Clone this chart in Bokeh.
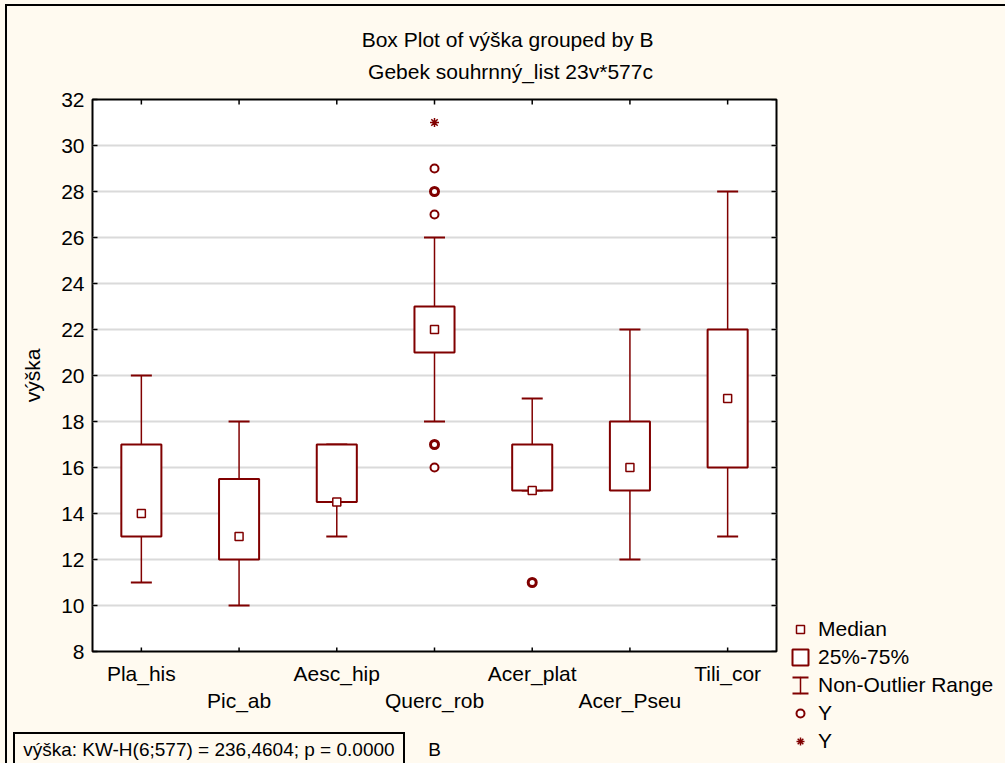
import math
from bokeh.plotting import figure
from bokeh.models import (Range1d, FixedTicker, LinearAxis, Legend, LegendItem, ColumnDataSource)
from bokeh.embed import file_html
from bokeh.resources import INLINE

# ---------------- data ----------------
categories = ["Pla_his", "Pic_ab", "Aesc_hip", "Querc_rob", "Acer_plat", "Acer_Pseu", "Tili_cor"]
medians = [14, 13, 14.5, 22, 15, 16, 19]
q1 = [13, 12, 14.5, 21, 15, 15, 16]
q3 = [17, 15.5, 17, 23, 17, 18, 22]
whisker_low = [11, 10, 13, 18, 15, 12, 13]
whisker_high = [20, 18, 17, 26, 19, 22, 28]

outlier_cat = ["Querc_rob", "Querc_rob", "Querc_rob", "Querc_rob", "Querc_rob",
               "Querc_rob", "Querc_rob", "Acer_plat", "Acer_plat"]
outlier_val = [29, 28, 28, 27, 17, 17, 16, 11, 11]
extreme_cat = ["Querc_rob"]
extreme_val = [31]

y_ticks = [8, 10, 12, 14, 16, 18, 20, 22, 24, 26, 28, 30, 32]

title_line1 = "Box Plot of výška grouped by  B"
title_line2 = "Gebek souhrnný_list 23v*577c"
y_label = "výška"
x_label = "B"
stat_text = "výška:  KW-H(6;577) = 236,4604; p = 0.0000"
legend_labels = ["Median", "25%-75%", "Non-Outlier Range", "Y", "Y"]

# ---------------- style / layout constants ----------------
DARK = "#800000"
BG = "#FFFAF0"
FONT = "Liberation Sans"
FS = "21px"
W, H = 1005, 763
FL, FR, FT, FB = 92, 776, 99, 651          # frame edges in pixels
TITLE_CX, STAT_CX = 510, 211               # text centres in pixels

n = len(categories)
x_lo, x_hi = -0.5, n - 0.5
px_per_x = (FR - FL) / (x_hi - x_lo)
def px_to_x(px):
    return x_lo + (px - FL) / px_per_x

idx = {c: i for i, c in enumerate(categories)}
xs = [idx[c] for c in categories]

css_bg = ", ".join([
    "linear-gradient(#000,#000) 5px 4px / 2px 2000px no-repeat",     # outer border (left)
    "linear-gradient(#000,#000) 5px 4px / 2000px 2px no-repeat",     # outer border (top)
    "linear-gradient(#000,#000) 13px 732px / 2px 100px no-repeat",   # stat box left
    "linear-gradient(#000,#000) 403px 732px / 2px 100px no-repeat",  # stat box right
    "linear-gradient(#000,#000) 13px 732px / 392px 2px no-repeat",   # stat box top
    BG,
])

p = figure(frame_width=FR - FL, frame_height=FB - FT,
           x_range=Range1d(x_lo, x_hi), y_range=Range1d(y_ticks[0], y_ticks[-1]),
           output_backend="svg", toolbar_location=None, title_location=None,
           min_border_left=FL, min_border_right=W - FR, min_border_top=FT, min_border_bottom=H - FB,
           styles={"background": css_bg, "clip-path": "inset(0 4px 0 0)"})
p.background_fill_color = "white"
p.border_fill_alpha = 0
p.outline_line_color = "black"
p.outline_line_width = 2

# y axis (left)
yax = p.yaxis[0]
yax.ticker = FixedTicker(ticks=y_ticks)
yax.major_tick_in = 5
yax.major_tick_out = 0
yax.minor_tick_line_color = None
yax.axis_line_color = None
yax.major_tick_line_width = 1.5
yax.major_label_standoff = 8
yax.major_label_text_font = FONT
yax.major_label_text_font_size = FS
yax.major_label_text_color = "black"
yax.axis_label = y_label
yax.axis_label_text_font = FONT
yax.axis_label_text_font_size = FS
yax.axis_label_text_font_style = "normal"
yax.axis_label_text_color = "black"
yax.axis_label_standoff = 14

p.ygrid.ticker = FixedTicker(ticks=y_ticks)
p.ygrid.grid_line_color = "#DADADA"
p.ygrid.grid_line_width = 2
p.xgrid.visible = False

def plain_axis(ticks, labels, standoff, size=FS):
    return dict(ticker=FixedTicker(ticks=ticks), major_label_overrides=dict(zip(ticks, labels)),
                major_tick_line_color=None, major_tick_in=0, major_tick_out=0,
                minor_tick_line_color=None, axis_line_color=None,
                major_label_standoff=standoff, major_label_text_font=FONT,
                major_label_text_font_size=size, major_label_text_color="black")

# x axis row 1 (below)
row1 = [i for i in xs if i % 2 == 0]
xax = p.xaxis[0]
for k, v in plain_axis(row1, [categories[i] for i in row1], 10).items():
    setattr(xax, k, v)

# x axis row 2 (staggered labels)
row2 = [i for i in xs if i % 2 == 1]
p.add_layout(LinearAxis(**plain_axis(row2, [categories[i] for i in row2], 1)), "below")

# axis title "B" and the statistics line
stat_x = round(px_to_x(STAT_CX), 3)
mid_x = (x_lo + x_hi) / 2
p.add_layout(LinearAxis(**plain_axis([stat_x, mid_x], [stat_text, x_label], 24, "19px")), "below")

# chart titles (two lines above the plot)
title_x = round(px_to_x(TITLE_CX), 3)
p.add_layout(LinearAxis(**plain_axis([title_x], [title_line2], 17)), "above")
p.add_layout(LinearAxis(**plain_axis([title_x], [title_line1], 6)), "above")

# inward tick marks on bottom, top and right edges of the frame
p.scatter(x=xs, y=[y_ticks[0]] * n, marker="dash", angle=math.pi / 2, size=8,
          line_color="black", line_width=1.5)
p.scatter(x=xs, y=[y_ticks[-1]] * n, marker="dash", angle=math.pi / 2, size=10,
          line_color="black", line_width=1.5)
p.scatter(x=[x_hi] * len(y_ticks), y=y_ticks, marker="dash", size=10,
          line_color="black", line_width=1.5)

# ---------------- glyphs ----------------
src = ColumnDataSource(dict(x=xs, med=medians, q1=q1, q3=q3, lo=whisker_low, hi=whisker_high))

p.segment(x0="x", y0="q3", x1="x", y1="hi", source=src, line_color=DARK, line_width=1.5)
p.segment(x0="x", y0="q1", x1="x", y1="lo", source=src, line_color=DARK, line_width=1.5)
p.scatter(x="x", y="hi", source=src, marker="dash", size=21, line_color=DARK, line_width=2)
p.scatter(x="x", y="lo", source=src, marker="dash", size=21, line_color=DARK, line_width=2)
box_r = p.vbar(x="x", width=0.41, bottom="q1", top="q3", source=src,
               fill_color="white", line_color=DARK, line_width=2)
med_r = p.scatter(x="x", y="med", source=src, marker="square", size=8,
                  fill_color="white", line_color=DARK, line_width=1.5)

pairs = list(zip(outlier_cat, outlier_val))
uniq = []
for pr in pairs:
    if pr not in uniq:
        uniq.append(pr)
out_src = ColumnDataSource(dict(
    x=[idx[c] for c, v in uniq],
    y=[v for c, v in uniq],
    lw=[2.0 if pairs.count(pr) == 1 else 3.0 for pr in uniq]))
out_r = p.scatter(x="x", y="y", source=out_src, marker="circle", size=8,
                  fill_color="white", line_color=DARK, line_width="lw")
ext_r = p.scatter(x=[idx[c] for c in extreme_cat], y=extreme_val, marker="asterisk",
                  size=9, line_color=DARK, line_width=1.5)

# legend proxies for the whisker symbol (outside the visible x range)
cap_proxy = p.vbar(x=[x_lo - 10], width=0.1, bottom=[0], top=[1], fill_color=None,
                   line_color=DARK, line_width=2, line_dash="16 16")
stem_proxy = p.ellipse(x=[x_lo - 10], y=[20], width=0.001, height=10, fill_color=None,
                       line_color=DARK, line_width=1.5)

legend = Legend(items=[
    LegendItem(label=legend_labels[0], renderers=[med_r]),
    LegendItem(label=legend_labels[1], renderers=[box_r]),
    LegendItem(label=legend_labels[2], renderers=[cap_proxy, stem_proxy]),
    LegendItem(label=legend_labels[3], renderers=[out_r]),
    LegendItem(label=legend_labels[4], renderers=[ext_r]),
], location=(14, -102), glyph_width=20, glyph_height=20, label_standoff=8, spacing=4,
    padding=0, margin=0, border_line_color=None, background_fill_alpha=0,
    label_text_font=FONT, label_text_font_size=FS, label_text_color="black", label_height=20)
p.add_layout(legend, "right")

open("out.html", "w").write(file_html(p, INLINE))
